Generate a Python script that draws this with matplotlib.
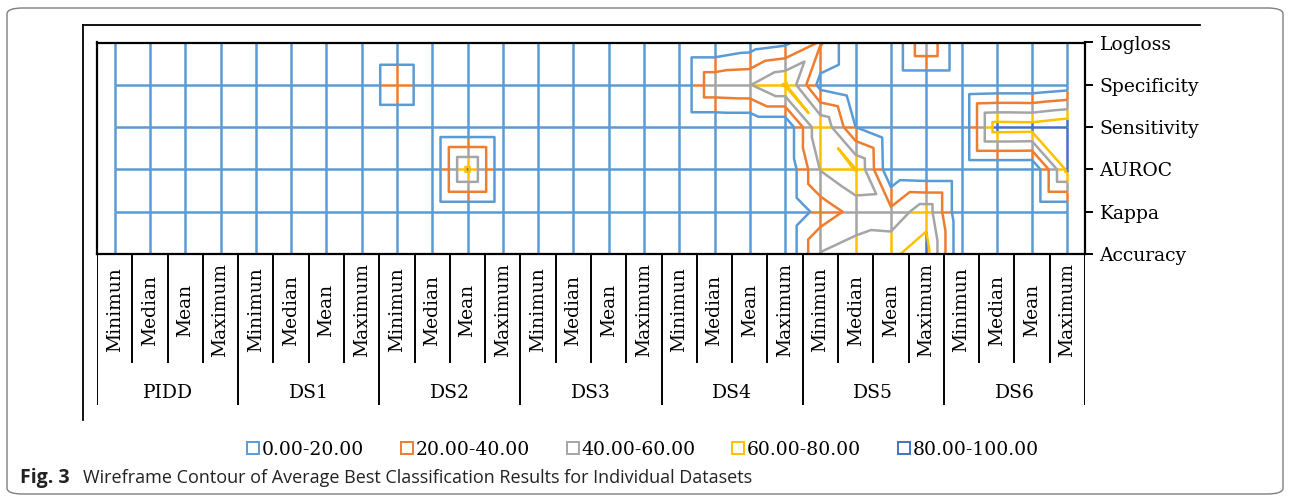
import numpy as np
import matplotlib
matplotlib.use("Agg")
import matplotlib.pyplot as plt
from matplotlib.collections import LineCollection
from matplotlib.tri import Triangulation
from matplotlib.patches import FancyBboxPatch
from matplotlib.lines import Line2D

# ---------------- data ----------------
datasets = ["PIDD", "DS1", "DS2", "DS3", "DS4", "DS5", "DS6"]
stats = ["Minimun", "Median", "Mean", "Maximum"]
metrics = ["Accuracy", "Kappa", "AUROC", "Sensitivity", "Specificity", "Logloss"]
band_labels = ["0.00-20.00", "20.00-40.00", "40.00-60.00", "60.00-80.00", "80.00-100.00"]
band_colors = ["#5B9BD5", "#ED7D31", "#A5A5A5", "#FFC000", "#4472C4"]
levels = [20, 40, 60, 80]

#            PIDD         DS1          DS2           DS3          DS4             DS5             DS6
accuracy    = [0, 0, 0, 0,  0, 0, 0, 0,  0, 0, 0, 0,   0, 0, 0, 0,  0, 0, 0, 0,     61, 70, 77, 88,  0, 0, 0, 0]
kappa       = [0, 0, 0, 0,  0, 0, 0, 0,  0, 0, 0, 0,   0, 0, 0, 0,  0, 0, 0, 0,     28, 47, 45, 73,  0, 0, 0, 0]
auroc       = [0, 0, 0, 0,  0, 0, 0, 0,  0, 0, 85, 0,  0, 0, 0, 0,  0, 0, 0, 0,     61, 81, 2, 0,    0, 0, 0, 85]
sensitivity = [0, 0, 0, 0,  0, 0, 0, 0,  0, 0, 0, 0,   0, 0, 0, 0,  0, 0, 0, 0,     79, 20, 0, 0,    0, 91, 90, 98]
specificity = [0, 0, 0, 0,  0, 0, 0, 0,  38, 0, 0, 0,  0, 0, 0, 0,  0, 57, 59, 82,   12, 0, 0, 0,     0, 2, 2, 8]
logloss     = [0, 0, 0, 0,  0, 0, 0, 0,  0, 0, 0, 0,   0, 0, 0, 0,  0, 0, 8, 15,    42, 0, 0, 59,    0, 0, 0, 0]

Z = np.array([accuracy, kappa, auroc, sensitivity, specificity, logloss], dtype=float)
nrow, ncol = Z.shape

W, H = 1290, 501
fig = plt.figure(figsize=(W / 100, H / 100), dpi=100)
fig.patch.set_facecolor("white")

def fx(px):
    return px / W

def fy(py):
    return 1 - py / H

# outer rounded frame
frame = FancyBboxPatch((fx(7), fy(494)), fx(1283) - fx(7), fy(8) - fy(494),
                       boxstyle="round,pad=0,rounding_size=0.012",
                       transform=fig.transFigure, fill=False,
                       edgecolor="#7f7f7f", linewidth=1.0)
fig.patches.append(frame)

# chart area border lines (top and left)
fig.add_artist(Line2D([fx(83), fx(1200)], [fy(25), fy(25)], color="black", lw=1.3))
fig.add_artist(Line2D([fx(83), fx(83)], [fy(25), fy(420)], color="black", lw=1.3))

# ---------------- main surface axes ----------------
x_left, x_right = 97, 1085
y_top, y_bot = 42.5, 254
ax = fig.add_axes([fx(x_left), fy(y_bot), fx(x_right) - fx(x_left), fy(y_top) - fy(y_bot)])
ax.set_xlim(-0.5, ncol - 0.5)
ax.set_ylim(0, nrow - 1)

serif = "DejaVu Serif"
fs = 13.5
lw_mesh = 1.8

def band_of(v):
    return int(min(max(v // 20, 0), 4))

segs, cols = [], []

def split_edge(p0, p1, z0, z1):
    ts = [0.0]
    lo, hi = min(z0, z1), max(z0, z1)
    for L in levels:
        if lo < L < hi:
            ts.append((L - z0) / (z1 - z0))
    ts.append(1.0)
    ts.sort()
    for a, b in zip(ts[:-1], ts[1:]):
        pa = (p0[0] + (p1[0] - p0[0]) * a, p0[1] + (p1[1] - p0[1]) * a)
        pb = (p0[0] + (p1[0] - p0[0]) * b, p0[1] + (p1[1] - p0[1]) * b)
        zm = z0 + (z1 - z0) * (a + b) / 2
        segs.append([pa, pb])
        cols.append(band_colors[band_of(zm)])

for r in range(nrow):
    for c in range(ncol):
        if c + 1 < ncol:
            split_edge((c, r), (c + 1, r), Z[r, c], Z[r, c + 1])
        if r + 1 < nrow:
            split_edge((c, r), (c, r + 1), Z[r, c], Z[r + 1, c])

ax.add_collection(LineCollection(segs, colors=cols, linewidths=lw_mesh,
                                 capstyle="butt", zorder=2))

# triangulation: split each cell along the diagonal with the larger sum
cc, rr = np.meshgrid(np.arange(ncol), np.arange(nrow))
px_, py_ = cc.ravel().astype(float), rr.ravel().astype(float)
idx = lambda r, c: r * ncol + c
tris = []
for r in range(nrow - 1):
    for c in range(ncol - 1):
        a, b, d, e = idx(r, c), idx(r, c + 1), idx(r + 1, c), idx(r + 1, c + 1)
        if Z[r, c] + Z[r + 1, c + 1] >= Z[r, c + 1] + Z[r + 1, c]:
            tris += [[a, b, e], [a, e, d]]
        else:
            tris += [[a, b, d], [b, e, d]]
tri = Triangulation(px_, py_, triangles=np.array(tris))
ax.tricontour(tri, Z.ravel(), levels=levels, colors=band_colors[:4],
              linewidths=lw_mesh, zorder=3)

for s in ax.spines.values():
    s.set_linewidth(1.6)
    s.set_color("black")
    s.set_zorder(5)
ax.set_xticks([])
ax.yaxis.tick_right()
ax.set_yticks(range(nrow))
ax.set_yticklabels(metrics, fontfamily=serif, fontsize=fs)
ax.tick_params(axis="y", direction="out", length=5.5, width=1.4, pad=5, colors="black")

# ---------------- category table below ----------------
tab_bot = 405
tab = fig.add_axes([fx(x_left), fy(tab_bot), fx(x_right) - fx(x_left), fy(y_bot) - fy(tab_bot)])
tab.set_xlim(-0.5, ncol - 0.5)
tab.set_ylim(0, 1)
tab.axis("off")
hgt = tab_bot - y_bot
short_end = (tab_bot - 363) / hgt
for k in range(ncol + 1):
    xk = k - 0.5
    y0 = 0 if k % 4 == 0 else short_end
    tab.plot([xk, xk], [y0, 1], color="black", lw=1.4, solid_capstyle="butt")
for c in range(ncol):
    tab.text(c, (tab_bot - 310) / hgt, stats[c % 4], rotation=90, ha="center", va="center",
             fontfamily=serif, fontsize=fs)
for g, name in enumerate(datasets):
    tab.text(g * 4 + 1.5, (tab_bot - 393) / hgt, name, ha="center", va="center",
             fontfamily=serif, fontsize=fs)

# ---------------- legend ----------------
handles = [Line2D([], [], linestyle="none", marker="s", markersize=8,
                  markerfacecolor="white", markeredgecolor=col, markeredgewidth=1.4)
           for col in band_colors]
fig.legend(handles, band_labels, loc="center", bbox_to_anchor=(fx(643), fy(450)),
           ncol=5, frameon=False, handlelength=0.6, handletextpad=0.15,
           columnspacing=2.0, prop={"family": serif, "size": fs})

# ---------------- caption ----------------
fig.text(fx(20), fy(478), "Fig. 3", fontfamily="Open Sans", fontweight="bold",
         fontsize=14, va="center", ha="left", color="#222222")
fig.text(fx(83), fy(478), "Wireframe Contour of Average Best Classification Results for Individual Datasets",
         fontfamily="Open Sans", fontsize=13, va="center", ha="left", color="#222222")

fig.savefig("out.png", dpi=100, facecolor="white")
